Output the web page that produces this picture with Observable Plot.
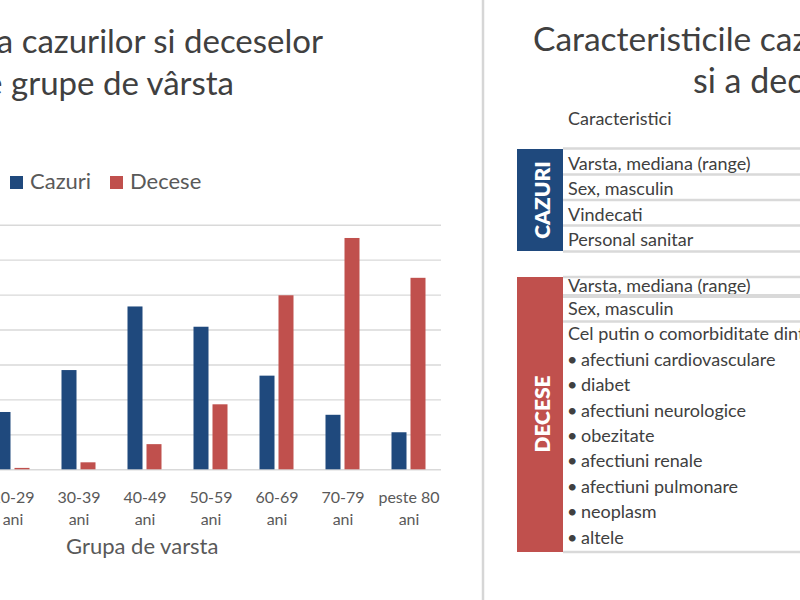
<!DOCTYPE html>
<html><head><meta charset="utf-8">
<script src="https://cdn.jsdelivr.net/npm/d3@7"></script>
<script src="https://cdn.jsdelivr.net/npm/@observablehq/plot@0.6"></script>
<style>
html,body{margin:0;padding:0;background:#fff;}
#page{position:relative;width:800px;height:600px;overflow:hidden;background:#fff;font-family:Lato,"Open Sans",sans-serif;}
#chart{position:absolute;left:0;top:0;}
#deco{position:absolute;left:0;top:0;}
</style></head><body>
<div id="page"><div id="chart"></div><svg id="deco" width="800" height="600"></svg></div>
<script>
// ---- data ----
const ageGroups = ["20-29","30-39","40-49","50-59","60-69","70-79","peste 80"];
const tickSuffix = "ani";
const series = ["Cazuri","Decese"];
const cazuri = [8.2,14.2,23.3,20.4,13.4,7.8,5.3];
const decese = [0.2,1.0,3.6,9.3,24.9,33.1,27.4];
const gridValues = [5,10,15,20,25,30,35];
const colors = ["#1F497D","#C0504D"];
const chartTitle = ["Distributia cazurilor si deceselor","pe grupe de vârsta"];
const xTitle = "Grupa de varsta";
const panelTitle = ["Caracteristicile cazurilor confirmate","si a deceselor"];
const tableHeader = "Caracteristici";
const casesLabel = "CAZURI";
const casesRows = ["Varsta, mediana (range)","Sex, masculin","Vindecati","Personal sanitar"];
const deathsLabel = "DECESE";
const deathsRows = ["Varsta, mediana (range)","Sex, masculin","Cel putin o comorbiditate dintre"];
const comorbidities = ["afectiuni cardiovasculare","diabet","afectiuni neurologice","obezitate","afectiuni renale","afectiuni pulmonare","neoplasm","altele"];

const data = ageGroups.flatMap((g,i)=>[
  {age:g, series:series[0], value:cazuri[i]},
  {age:g, series:series[1], value:decese[i]}
]);

const chart = Plot.plot({
  width: 480, height: 600,
  marginLeft: 0, marginRight: 39, marginTop: 224, marginBottom: 131,
  style: {fontFamily: "Lato, sans-serif", background: "transparent"},
  x: {domain: ageGroups, range: [-21, 441], paddingInner: 0.77273, paddingOuter: 0.38636, axis: null, label: null},
  y: {domain: [0, 35], range: [469.3, 224.7], axis: null, label: null},
  color: {domain: series, range: colors},
  marks: [
    Plot.gridY(gridValues, {stroke: "#d9d9d9", strokeOpacity: 1, strokeWidth: 1.4}),
    Plot.ruleY([0], {stroke: "#d9d9d9", strokeWidth: 1.4}),
    Plot.barY(data.filter(d => d.series === series[0]), {x: "age", y: "value", fill: "series", dx: -9.5}),
    Plot.barY(data.filter(d => d.series === series[1]), {x: "age", y: "value", fill: "series", dx: 9.5}),
    Plot.axisX({tickSize: 0, tickPadding: 17.5, tickFormat: d => d + "\n" + tickSuffix, label: null,
      fontSize: 16, lineHeight: 1.375, fill: "#595959", textStroke: "none"})
  ]
});
document.getElementById("chart").appendChild(chart);

// ---- decorations ----
const svg = d3.select("#deco").style("font-family", "Lato, sans-serif");
const dark = "#404040", mid = "#595959", line = "#d9d9d9";

// left title (cropped at left edge)
svg.append("text").attr("x", 323).attr("y", 53).attr("text-anchor", "end")
  .attr("font-size", 33).attr("fill", dark).text(chartTitle[0]);
svg.append("text").attr("x", 234).attr("y", 95).attr("text-anchor", "end")
  .attr("font-size", 33).attr("fill", dark).text(chartTitle[1]);

// legend
const legX = [10, 110];
series.forEach((s, i) => {
  svg.append("rect").attr("x", legX[i]).attr("y", 176).attr("width", 13).attr("height", 13).attr("fill", colors[i]);
  svg.append("text").attr("x", legX[i] + 20).attr("y", 189).attr("font-size", 22).attr("fill", mid).text(s);
});

// x axis title
svg.append("text").attr("x", 66).attr("y", 554).attr("font-size", 22).attr("fill", mid).text(xTitle);

// divider
svg.append("line").attr("x1", 483).attr("x2", 483).attr("y1", 0).attr("y2", 600)
  .attr("stroke", "#d6d6d6").attr("stroke-width", 2.5);

// right title
svg.append("text").attr("x", 533).attr("y", 51).attr("font-size", 33.5).attr("fill", dark).text(panelTitle[0]);
svg.append("text").attr("x", 693).attr("y", 93).attr("font-size", 34).attr("fill", dark).text(panelTitle[1]);

// table header
svg.append("text").attr("x", 568).attr("y", 125).attr("font-size", 18).attr("fill", dark).text(tableHeader);

// cases block
svg.append("rect").attr("x", 517).attr("y", 149).attr("width", 46).attr("height", 102).attr("fill", colors[0]);
svg.append("text").attr("transform", "translate(541,200) rotate(-90)").attr("text-anchor", "middle")
  .attr("dominant-baseline", "central").attr("font-size", 21).attr("font-weight", 800).attr("fill", "#fff").text(casesLabel);
const caseTops = [149, 174.5, 200, 225.5];
casesRows.forEach((r, i) => {
  svg.append("text").attr("x", 568).attr("y", caseTops[i] + 20.5).attr("font-size", 18).attr("fill", dark).text(r);
});
[148.5, 174.5, 200, 225.5, 251.5].forEach(y => {
  svg.append("line").attr("x1", 563).attr("x2", 800).attr("y1", y).attr("y2", y).attr("stroke", line).attr("stroke-width", 2.5);
});

// deaths block
svg.append("rect").attr("x", 517).attr("y", 277).attr("width", 46).attr("height", 275).attr("fill", colors[1]);
svg.append("text").attr("transform", "translate(541,414) rotate(-90)").attr("text-anchor", "middle")
  .attr("dominant-baseline", "central").attr("font-size", 21).attr("font-weight", 800).attr("fill", "#fff").text(deathsLabel);
const deathBase = [291.5, 315, 340];
deathsRows.forEach((r, i) => {
  svg.append("text").attr("x", 568).attr("y", deathBase[i]).attr("font-size", 18).attr("fill", dark).text(r);
});
comorbidities.forEach((c, i) => {
  const y = 365.7 + i * 25.4;
  svg.append("text").attr("x", 567).attr("y", y).attr("font-size", 18).attr("fill", dark).text("•");
  svg.append("text").attr("x", 581).attr("y", y).attr("font-size", 18).attr("fill", dark).text(c);
});
[277, 296, 321.5, 552].forEach((y, i) => {
  svg.append("line").attr("x1", 563).attr("x2", 800).attr("y1", y).attr("y2", y).attr("stroke", line)
    .attr("stroke-width", i === 1 ? 4 : 2.5);
});
</script>
</body></html>
